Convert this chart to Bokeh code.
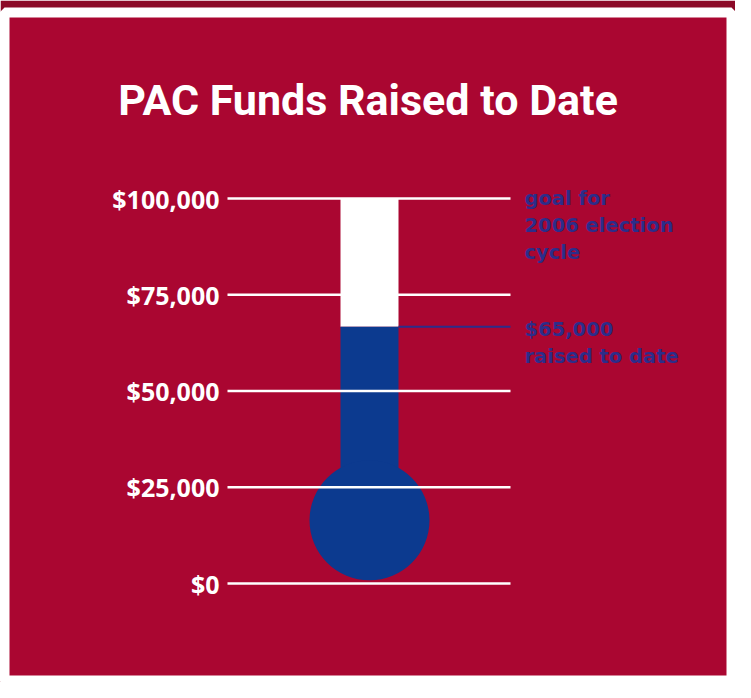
from bokeh.plotting import figure
from bokeh.models import Range1d
from bokeh.embed import file_html
from bokeh.resources import INLINE
from bokeh.core.properties import value

# ---------------- data ----------------
title_text = "PAC Funds Raised to Date"
tick_values = [0, 25000, 50000, 75000, 100000]
tick_labels = ["$0", "$25,000", "$50,000", "$75,000", "$100,000"]
goal = 100000
raised = 65000
raised_fill_level = 66700      # level the blue fill reaches in the picture
bulb_level = 16400             # centre of the thermometer bulb
goal_note = ["goal for", "2006 election", "cycle"]
raised_note = ["$65,000", "raised to date"]

# ---------------- colours ----------------
RED = "#AA0631"
DARK_RED = "#8C0A27"
BLUE = "#0C3A8F"
NOTE_BLUE = "#2C2D8A"
WHITE = "#FFFFFF"

# ---------------- layout ----------------
W, H = 735, 682
FRAME_W, FRAME_H = 727, 668
top_px, zero_px = 186, 571            # frame-relative pixel rows of goal and $0
scale = (zero_px - top_px) / goal     # px per dollar
y_end = goal + top_px / scale
y_start = -(FRAME_H - zero_px) / scale

p = figure(width=W, height=H, output_backend="svg", toolbar_location=None,
           x_range=Range1d(0, FRAME_W), y_range=Range1d(y_start, y_end),
           x_axis_location=None, y_axis_location=None, title=None,
           min_border_left=4, min_border_right=4, min_border_top=12,
           min_border_bottom=2)
p.grid.visible = False
p.background_fill_color = RED
p.border_fill_color = DARK_RED
p.outline_line_color = WHITE
p.outline_line_width = 10

tube_x = 365
tube_w = 58
line_x0, line_x1 = 223, 506
label_x = 215
note_x = 520

# thermometer: empty (white) part and filled (blue) part
p.vbar(x=[tube_x], width=tube_w, bottom=[raised_fill_level], top=[goal],
       fill_color=WHITE, line_color=None)
p.vbar(x=[tube_x], width=tube_w, bottom=[bulb_level], top=[raised_fill_level],
       fill_color=BLUE, line_color=None)
p.scatter(x=[tube_x], y=[bulb_level], size=120, marker="circle",
          fill_color=BLUE, line_color=None)

# tick lines
p.segment(x0=[line_x0] * len(tick_values), y0=tick_values,
          x1=[line_x1] * len(tick_values), y1=tick_values,
          line_color=WHITE, line_width=2.5)

# tick labels
p.text(x=[label_x] * len(tick_values), y=tick_values, text=tick_labels,
       text_align="right", text_baseline="middle", text_color=WHITE,
       text_font=value("Open Sans"), text_font_style="bold",
       text_font_size="25px")

# pointer for raised amount
p.segment(x0=[tube_x + tube_w / 2], y0=[raised_fill_level],
          x1=[line_x1], y1=[raised_fill_level],
          line_color=NOTE_BLUE, line_width=2)

# notes
p.text(x=[note_x] * len(goal_note), y=[goal] * len(goal_note), text=goal_note,
       y_offset=[0, 27, 54], text_align="left", text_baseline="middle",
       text_color=NOTE_BLUE, text_font=value("DejaVu Sans"),
       text_font_style="bold", text_font_size="19.5px")
p.text(x=[note_x] * len(raised_note), y=[raised_fill_level] * len(raised_note),
       text=raised_note, y_offset=[3, 30], text_align="left",
       text_baseline="middle", text_color=NOTE_BLUE,
       text_font=value("DejaVu Sans"), text_font_style="bold",
       text_font_size="19.5px")

# title
title_y = goal + (186 - 87) / scale
p.text(x=[FRAME_W / 2], y=[title_y], text=[title_text], text_align="center",
       text_baseline="middle", text_color=WHITE,
       text_font=value("Roboto"), text_font_style="bold",
       text_font_size="43px")

open("out.html", "w").write(file_html(p, INLINE))
